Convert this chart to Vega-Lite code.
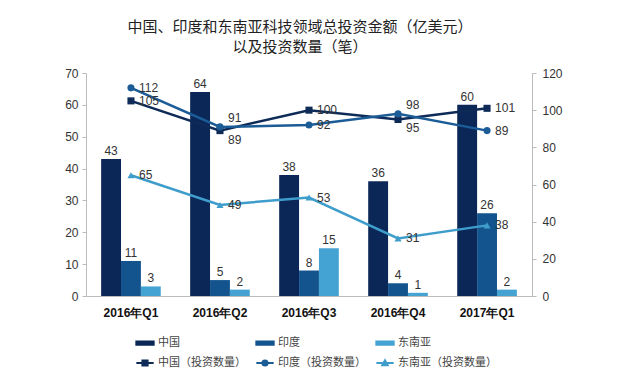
{
  "$schema": "https://vega.github.io/schema/vega-lite/v6.json",
  "width": 446,
  "height": 223,
  "autosize": {"type": "none"},
  "padding": {"left": 86, "top": 73, "right": 108, "bottom": 89},
  "background": "white",
  "title": {
    "text": ["中国、印度和东南亚科技领域总投资金额（亿美元）", "以及投资数量（笔）"],
    "font": "Noto Sans CJK SC",
    "fontSize": 15,
    "fontWeight": "normal",
    "color": "#222",
    "lineHeight": 20,
    "offset": 12,
    "anchor": "middle",
    "dx": -9
  },
  "config": {"view": {"stroke": null}, "font": "Liberation Sans"},
  "datasets": {
    "amount": [
      {"q": "2016年Q1", "series": "中国", "amount": 43},
      {"q": "2016年Q1", "series": "印度", "amount": 11},
      {"q": "2016年Q1", "series": "东南亚", "amount": 3},
      {"q": "2016年Q2", "series": "中国", "amount": 64},
      {"q": "2016年Q2", "series": "印度", "amount": 5},
      {"q": "2016年Q2", "series": "东南亚", "amount": 2},
      {"q": "2016年Q3", "series": "中国", "amount": 38},
      {"q": "2016年Q3", "series": "印度", "amount": 8},
      {"q": "2016年Q3", "series": "东南亚", "amount": 15},
      {"q": "2016年Q4", "series": "中国", "amount": 36},
      {"q": "2016年Q4", "series": "印度", "amount": 4},
      {"q": "2016年Q4", "series": "东南亚", "amount": 1},
      {"q": "2017年Q1", "series": "中国", "amount": 60},
      {"q": "2017年Q1", "series": "印度", "amount": 26},
      {"q": "2017年Q1", "series": "东南亚", "amount": 2}
    ],
    "count": [
      {"q": "2016年Q1", "lseries": "中国（投资数量）", "count": 105},
      {"q": "2016年Q2", "lseries": "中国（投资数量）", "count": 89},
      {"q": "2016年Q3", "lseries": "中国（投资数量）", "count": 100},
      {"q": "2016年Q4", "lseries": "中国（投资数量）", "count": 95},
      {"q": "2017年Q1", "lseries": "中国（投资数量）", "count": 101},
      {"q": "2016年Q1", "lseries": "印度（投资数量）", "count": 112},
      {"q": "2016年Q2", "lseries": "印度（投资数量）", "count": 91},
      {"q": "2016年Q3", "lseries": "印度（投资数量）", "count": 92},
      {"q": "2016年Q4", "lseries": "印度（投资数量）", "count": 98},
      {"q": "2017年Q1", "lseries": "印度（投资数量）", "count": 89},
      {"q": "2016年Q1", "lseries": "东南亚（投资数量）", "count": 65},
      {"q": "2016年Q2", "lseries": "东南亚（投资数量）", "count": 49},
      {"q": "2016年Q3", "lseries": "东南亚（投资数量）", "count": 53},
      {"q": "2016年Q4", "lseries": "东南亚（投资数量）", "count": 31},
      {"q": "2017年Q1", "lseries": "东南亚（投资数量）", "count": 38}
    ]
  },
  "layer": [
    {
      "data": {"name": "amount"},
      "encoding": {
        "x": {
          "field": "q", "type": "nominal", "sort": null,
          "scale": {"paddingInner": 0.33, "paddingOuter": 0.17},
          "axis": {"title": null, "labelAngle": 0, "labelFontWeight": "bold", "labelFontSize": 12, "labelColor": "#111", "ticks": false, "domainColor": "#bbb", "labelPadding": 11}
        },
        "xOffset": {"field": "series", "type": "nominal", "sort": ["中国", "印度", "东南亚"], "scale": {"paddingInner": 0, "paddingOuter": 0}},
        "y": {
          "field": "amount", "type": "quantitative",
          "scale": {"domain": [0, 70]},
          "axis": {"values": [0, 10, 20, 30, 40, 50, 60, 70], "title": null, "grid": false, "domainColor": "#bbb", "tickColor": "#bbb", "tickSize": 4, "labelFontSize": 12, "labelColor": "#333", "labelPadding": 4}
        }
      },
      "layer": [
        {
          "mark": {"type": "bar"},
          "encoding": {
            "color": {
              "field": "series", "type": "nominal",
              "scale": {
                "domain": ["中国", "印度", "东南亚", "中国（投资数量）", "印度（投资数量）", "东南亚（投资数量）"],
                "range": ["#0a2757", "#13548e", "#45a3d3", "#0e2b58", "#1b5c97", "#3f9dcb"]
              },
              "legend": {
                "title": null,
                "orient": "none",
                "legendX": 49,
                "legendY": 260,
                "direction": "horizontal",
                "columns": 3,
                "columnPadding": 6,
                "rowPadding": 4,
                "symbolSize": 300,
                "symbolStrokeWidth": 2,
                "labelFont": "Noto Sans CJK SC",
                "labelFontSize": 11,
                "labelColor": "#444",
                "labelOffset": 3,
                "labelLimit": 200,
                "encode": {
                  "symbols": {
                    "update": {
                      "shape": {"signal": "datum.value === '中国（投资数量）' ? 'M-1,0H1M-0.3,-0.3H0.3V0.3H-0.3Z' : datum.value === '印度（投资数量）' ? 'M-1,0H1M-0.3,0A0.3,0.3 0 1,1 0.3,0A0.3,0.3 0 1,1 -0.3,0Z' : datum.value === '东南亚（投资数量）' ? 'M-1,0H1M-0.32,0.26L0,-0.32L0.32,0.26Z' : 'M-1,-0.2H1V0.2H-1Z'"},
                      "fill": {"scale": "color", "field": "value"},
                      "stroke": {"scale": "color", "field": "value"}
                    }
                  }
                }
              }
            }
          }
        },
        {
          "mark": {"type": "text", "dy": -8, "fontSize": 12, "color": "#333"},
          "encoding": {"text": {"field": "amount", "type": "quantitative"}}
        }
      ]
    },
    {
      "data": {"name": "count"},
      "encoding": {
        "x": {"field": "q", "type": "nominal", "sort": null, "scale": {"paddingInner": 0.33, "paddingOuter": 0.17}},
        "y": {
          "field": "count", "type": "quantitative",
          "scale": {"domain": [0, 120]},
          "axis": {"orient": "right", "values": [0, 20, 40, 60, 80, 100, 120], "title": null, "grid": false, "domainColor": "#bbb", "tickColor": "#bbb", "tickSize": 4, "labelFontSize": 12, "labelColor": "#333", "labelPadding": 6}
        }
      },
      "layer": [
        {
          "mark": {"type": "line", "strokeWidth": 2.5},
          "encoding": {"color": {"field": "lseries", "type": "nominal"}}
        },
        {
          "mark": {"type": "point", "filled": true, "size": 50, "opacity": 1},
          "encoding": {
            "color": {"field": "lseries", "type": "nominal"},
            "shape": {"field": "lseries", "type": "nominal", "scale": {"domain": ["中国（投资数量）", "印度（投资数量）", "东南亚（投资数量）"], "range": ["square", "circle", "triangle-up"]}, "legend": null}
          }
        },
        {
          "transform": [{"filter": "!((datum.q === '2016年Q2' || datum.q === '2016年Q4') && datum.lseries !== '东南亚（投资数量）')"}],
          "mark": {"type": "text", "dx": 8, "align": "left", "baseline": "middle", "fontSize": 12, "color": "#333"},
          "encoding": {"text": {"field": "count", "type": "quantitative"}}
        },
        {
          "transform": [{"filter": "(datum.q === '2016年Q2' || datum.q === '2016年Q4') && datum.lseries === '印度（投资数量）'"}],
          "mark": {"type": "text", "dx": 8, "dy": -9, "align": "left", "baseline": "middle", "fontSize": 12, "color": "#333"},
          "encoding": {"text": {"field": "count", "type": "quantitative"}}
        },
        {
          "transform": [{"filter": "(datum.q === '2016年Q2' || datum.q === '2016年Q4') && datum.lseries === '中国（投资数量）'"}],
          "mark": {"type": "text", "dx": 8, "dy": 9, "align": "left", "baseline": "middle", "fontSize": 12, "color": "#333"},
          "encoding": {"text": {"field": "count", "type": "quantitative"}}
        }
      ]
    }
  ],
  "resolve": {"scale": {"y": "independent"}}
}
